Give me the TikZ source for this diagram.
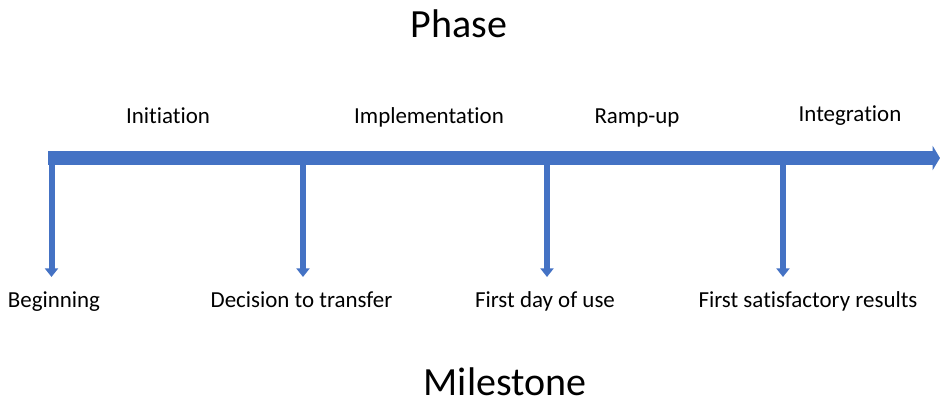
\documentclass[tikz,border=0pt]{standalone}
\usepackage{fontspec}
\setmainfont{Carlito}[Ligatures=NoCommon]
\usetikzlibrary{arrows.meta}
\definecolor{barblue}{HTML}{4472C4}
\begin{document}
\begin{tikzpicture}[x=0.75pt,y=-0.75pt,
  timeline/.style={draw=barblue,line width=9.9pt,
    -{Triangle[length=5.5pt,width=18pt]}},
  drop/.style={draw=barblue,line width=4.5pt,
    -{Triangle[length=6.5pt,width=9.75pt]}},
  lbl/.style={anchor=base,inner sep=0pt,font=\fontsize{17.2pt}{20pt}\selectfont},
  title/.style={anchor=base,inner sep=0pt,font=\fontsize{30pt}{36pt}\selectfont}]
\useasboundingbox (0,0) rectangle (940,400);

% main time axis
\coordinate (start) at (48,158);
\coordinate (finish) at (940,158);
\draw[timeline] (start) -- (finish);

% milestone markers on the axis and their lower ends
\coordinate (m1) at (51.5,158);
\coordinate (m2) at (303,158);
\coordinate (m3) at (547,158);
\coordinate (m4) at (783,158);
\coordinate (e1) at (51.5,277);
\coordinate (e2) at (303,277);
\coordinate (e3) at (547,277);
\coordinate (e4) at (783,277);
\foreach \i in {1,...,4} \draw[drop] (m\i) -- (e\i);

% headings
\node[title] (phase) at (459,37) {Phase};
\node[title] (milestone) at (505,395) {Milestone};

% phase names
\node[lbl] (p1) at (168,123) {Initiation};
\node[lbl] (p2) at (429,123) {Implementation};
\node[lbl] (p3) at (637,123) {Ramp-up};
\node[lbl] (p4) at (850,121) {Integration};

% milestone names
\node[lbl] (l1) at (54,307) {Beginning};
\node[lbl] (l2) at (301.5,307) {Decision to transfer};
\node[lbl] (l3) at (545,307) {First day of use};
\node[lbl] (l4) at (808,307) {First satisfactory results};
\end{tikzpicture}
\end{document}
